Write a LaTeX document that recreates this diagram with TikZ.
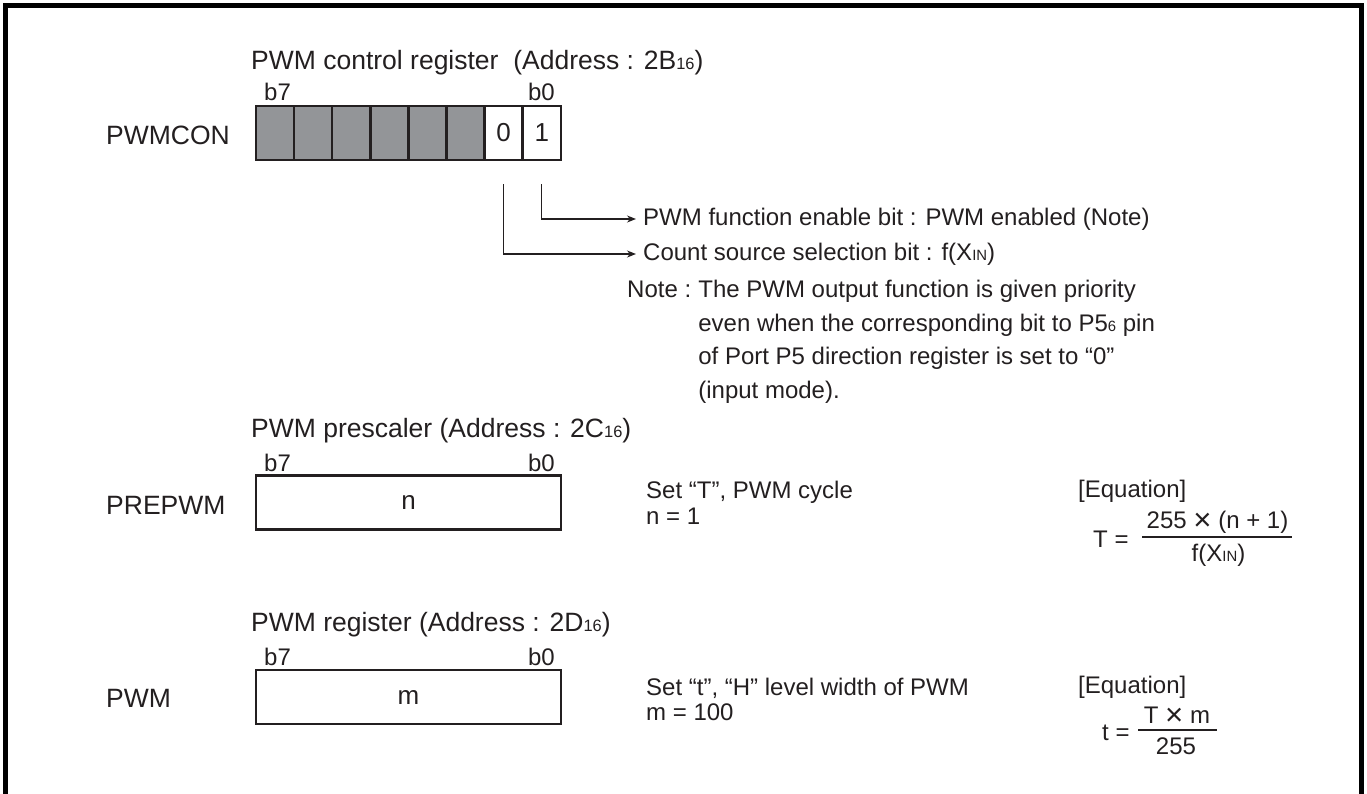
\documentclass[tikz,border=0pt]{standalone}
\usepackage{fontspec}
\usepackage{graphicx}
\setmainfont{Liberation Sans}
\usetikzlibrary{arrows.meta}
\definecolor{ink}{HTML}{231F20}
\definecolor{regGray}{HTML}{939598}
\newcommand\sm[1]{\scalebox{0.62}{#1}}
\newcommand\crs{\raisebox{-2pt}{\scalebox{1.3}{×}}}
\begin{document}
\begin{tikzpicture}[x=1pt,y=-1pt,
  big/.style={font=\fontsize{26.5}{30}\selectfont, inner sep=0pt, text=ink},
  bits/.style={font=\fontsize{24}{28}\selectfont, inner sep=0pt, text=ink},
  txt/.style={font=\fontsize{24}{28}\selectfont, inner sep=0pt, text=ink},
  cell/.style={draw=ink, line width=2.5pt, minimum width=38.1pt, minimum height=54pt, inner sep=0pt, font=\fontsize{26}{30}\selectfont, text=ink},
  shaded/.style={cell, fill=regGray},
  wide/.style={draw=ink, line width=2.5pt, minimum width=305pt, minimum height=54pt, inner sep=0pt, font=\fontsize{26}{30}\selectfont, text=ink},
  conn/.style={draw=ink, line width=1.3pt, -{Stealth[length=9pt,width=7pt]}, shorten >=7pt},
  bar/.style={draw=ink, line width=1.1pt},
  frame/.style={draw=black, line width=5pt}
]
\useasboundingbox (0,0) rectangle (1367,793);
\draw[frame] (5.8,800) -- (5.8,5.3) -- (1361,5.3) -- (1361,800);

% ---------- PWMCON ----------
\node[big, anchor=base west] (t1) at (251,69) {PWM control register\ \ (Address : 2B\sm{16})};
\node[bits, anchor=base west] (r1b7) at (264,100) {b7};
\node[bits, anchor=base east] (r1b0) at (555,100) {b0};
\foreach \k/\n in {0/7,1/6,2/5,3/4,4/3,5/2} {
  \node[shaded] (c\n) at (275.05+38.1*\k,133) {};
}
\node[cell] (c1) at (503.65,133) {0};
\node[cell] (c0) at (541.75,133) {1};
\node[big, anchor=base west] (l1) at (106,144) {PWMCON};

\node[txt, anchor=west] (f0) at (643,219) {PWM function enable bit : PWM enabled (Note)};
\node[txt, anchor=west] (f1) at (643,254) {Count source selection bit : f(X\sm{IN})};
\draw[conn] ([yshift=-23pt]c0.south) |- (f0.west);
\draw[conn] ([yshift=-23pt]c1.south) |- (f1.west);

\node[txt, anchor=base west] (n0) at (627,297.6) {Note :};
\node[txt, anchor=base west] (n1) at ([xshift=6.7pt]n0.base east) {The PWM output function is given priority};
\node[txt, anchor=base west] (n2) at ([yshift=-33.5pt]n1.base west) {even when the corresponding bit to P5\sm{6} pin};
\node[txt, anchor=base west] (n3) at ([yshift=-33.5pt]n2.base west) {of Port P5 direction register is set to “0”};
\node[txt, anchor=base west] (n4) at ([yshift=-33.5pt]n3.base west) {(input mode).};

% ---------- PREPWM ----------
\node[big, anchor=base west] (t2) at (251,437) {PWM prescaler (Address : 2C\sm{16})};
\node[bits, anchor=base west] (r2b7) at (264,471) {b7};
\node[bits, anchor=base east] (r2b0) at (555,471) {b0};
\node[wide] (pre) at (408.5,502.5) {n};
\node[big, anchor=base west] (l2) at (106,514) {PREPWM};

\node[txt, anchor=base west] (s1) at (646,498.6) {Set “T”, PWM cycle};
\node[txt, anchor=base west] (s1b) at ([yshift=-25.4pt]s1.base west) {n = 1};

\node[txt, anchor=base west] (e1) at (1078,497) {[Equation]};
\node[txt, anchor=base west] (e1l) at (1093,547) {T =};
\node[txt, anchor=base] (e1n) at (1217.5,528) {255 \crs{} (n + 1)};
\node[txt, anchor=base] (e1d) at (1218.5,561) {f(X\sm{IN})};
\draw[bar] (1142,537) -- (1292,537);

% ---------- PWM ----------
\node[big, anchor=base west] (t3) at (251,631) {PWM register (Address : 2D\sm{16})};
\node[bits, anchor=base west] (r3b7) at (264,665) {b7};
\node[bits, anchor=base east] (r3b0) at (555,665) {b0};
\node[wide] (pwm) at (408.5,697) {m};
\node[big, anchor=base west] (l3) at (106,707) {PWM};

\node[txt, anchor=base west] (s2) at (646,695) {Set “t”, “H” level width of PWM};
\node[txt, anchor=base west] (s2b) at ([yshift=-25.4pt]s2.base west) {m = 100};

\node[txt, anchor=base west] (e2) at (1078,693) {[Equation]};
\node[txt, anchor=base west] (e2l) at (1102,740) {t =};
\node[txt, anchor=base] (e2n) at (1177,723) {T \crs{} m};
\node[txt, anchor=base] (e2d) at (1176,754) {255};
\draw[bar] (1138,730) -- (1217,730);
\end{tikzpicture}
\end{document}
